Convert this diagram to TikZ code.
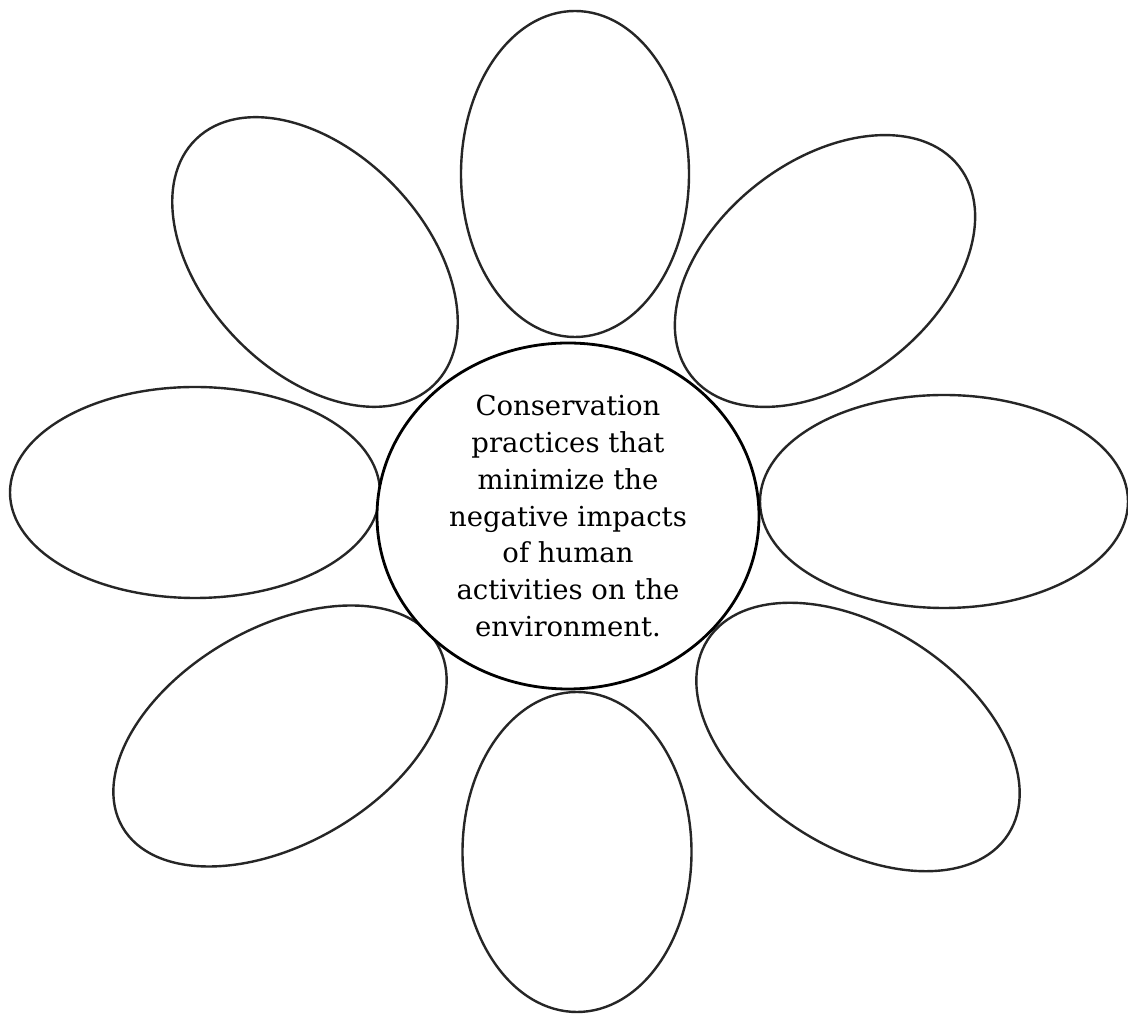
\documentclass[tikz,border=0pt]{standalone}
\usepackage{fontspec}
\setmainfont{DejaVu Serif}
\usetikzlibrary{shapes.geometric}
\tikzset{
  petal/.style={ellipse, draw=black!85, line width=2.4pt, fill=white, inner sep=0pt},
  hub/.style={ellipse, draw=black, line width=2.8pt, fill=white, inner sep=0pt,
    minimum width=382pt, minimum height=346pt, align=center,
    font=\fontsize{27.5}{36.8}\selectfont}
}
\begin{document}
\begin{tikzpicture}[x=1pt,y=1pt]
\useasboundingbox (0,0) rectangle (1128,1017);
\fill[white] (0,0) rectangle (1128,1017);
\node[petal, minimum width=228pt, minimum height=326pt] (ptop) at (575,843) {};
\node[petal, minimum width=340pt, minimum height=220pt, rotate=38] (pur) at (825,746) {};
\node[petal, minimum width=368pt, minimum height=213pt] (pright) at (944,515.5) {};
\node[petal, minimum width=358pt, minimum height=220pt, rotate=-33] (plr) at (858,280) {};
\node[petal, minimum width=229pt, minimum height=320pt] (pbottom) at (577,165) {};
\node[petal, minimum width=364pt, minimum height=216pt, rotate=30] (pll) at (280,281) {};
\node[petal, minimum width=370pt, minimum height=211pt] (pleft) at (195,524.5) {};
\node[petal, minimum width=342pt, minimum height=220pt, rotate=-46] (pul) at (315,755) {};
\node[hub] (center) at (568,501) {Conservation\\practices that\\minimize the\\negative impacts\\of human\\activities on the\\environment.};
\end{tikzpicture}
\end{document}
